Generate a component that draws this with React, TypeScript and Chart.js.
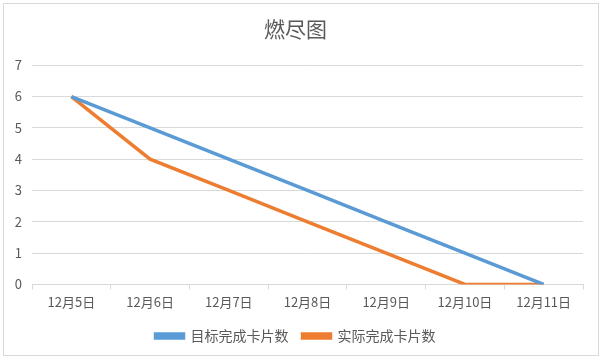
import React, { useEffect, useRef } from "react";
import { Chart, registerables } from "chart.js";

Chart.register(...registerables);

const categories = ["12月5日", "12月6日", "12月7日", "12月8日", "12月9日", "12月10日", "12月11日"];
const targetValues = [6, 5, 4, 3, 2, 1, 0];
const actualValues = [6, 4, 3, 2, 1, 0, 0];
const yTicks = [0, 1, 2, 3, 4, 5, 6, 7];

const FONT = "'Noto Sans CJK SC', 'Noto Sans', sans-serif";

export default function App() {
  const ref = useRef<HTMLCanvasElement | null>(null);
  useEffect(() => {
    document.body.style.margin = "0";
    const chart = new Chart(ref.current!, {
      type: "line",
      data: {
        labels: categories,
        datasets: [
          {
            label: "目标完成卡片数",
            data: targetValues,
            borderColor: "#5B9BD5",
            backgroundColor: "#5B9BD5",
            borderWidth: 3.5,
            pointRadius: 0,
            tension: 0,
          },
          {
            label: "实际完成卡片数",
            data: actualValues,
            borderColor: "#ED7D31",
            backgroundColor: "#ED7D31",
            borderWidth: 3.5,
            pointRadius: 0,
            tension: 0,
          },
        ],
      },
      options: {
        responsive: false,
        animation: false,
        layout: { padding: { left: 8, right: 18, top: 8, bottom: 5 } },
        plugins: {
          title: {
            display: true,
            text: "燃尽图",
            color: "#595959",
            font: { family: FONT, size: 21, weight: "normal" },
            padding: { top: 8, bottom: 24 },
          },
          legend: {
            position: "bottom",
            labels: {
              color: "#595959",
              font: { family: FONT, size: 14 },
              boxWidth: 28,
              boxHeight: 4,
              padding: 14,
            },
          },
          tooltip: { enabled: false },
        },
        scales: {
          x: {
            offset: true,
            grid: {
              offset: true,
              drawOnChartArea: false,
              drawTicks: true,
              tickLength: 5,
              color: "#d9d9d9",
            },
            border: { display: true, color: "#d9d9d9" },
            ticks: {
              color: "#595959",
              font: { family: FONT, size: 13 },
              maxRotation: 0,
              padding: 5,
            },
          },
          y: {
            min: 0,
            max: 7,
            afterBuildTicks: (scale: any) => {
              scale.ticks = yTicks.map((v) => ({ value: v }));
            },
            afterFit: (scale: any) => {
              scale.width = 24;
            },
            grid: { color: "#d9d9d9", drawTicks: false },
            border: { display: false },
            ticks: {
              color: "#595959",
              font: { family: FONT, size: 13 },
              padding: 10,
            },
          },
        },
      },
    });
    return () => chart.destroy();
  }, []);
  return (
    <div style={{ position: "absolute", left: 0, top: 0, width: 601, height: 358 }}>
      <canvas ref={ref} width={601} height={358} style={{ display: "block" }} />
      <div
        style={{
          position: "absolute",
          left: 3,
          top: 3,
          width: 594,
          height: 351,
          border: "1px solid #d9d9d9",
          pointerEvents: "none",
        }}
      />
    </div>
  );
}
